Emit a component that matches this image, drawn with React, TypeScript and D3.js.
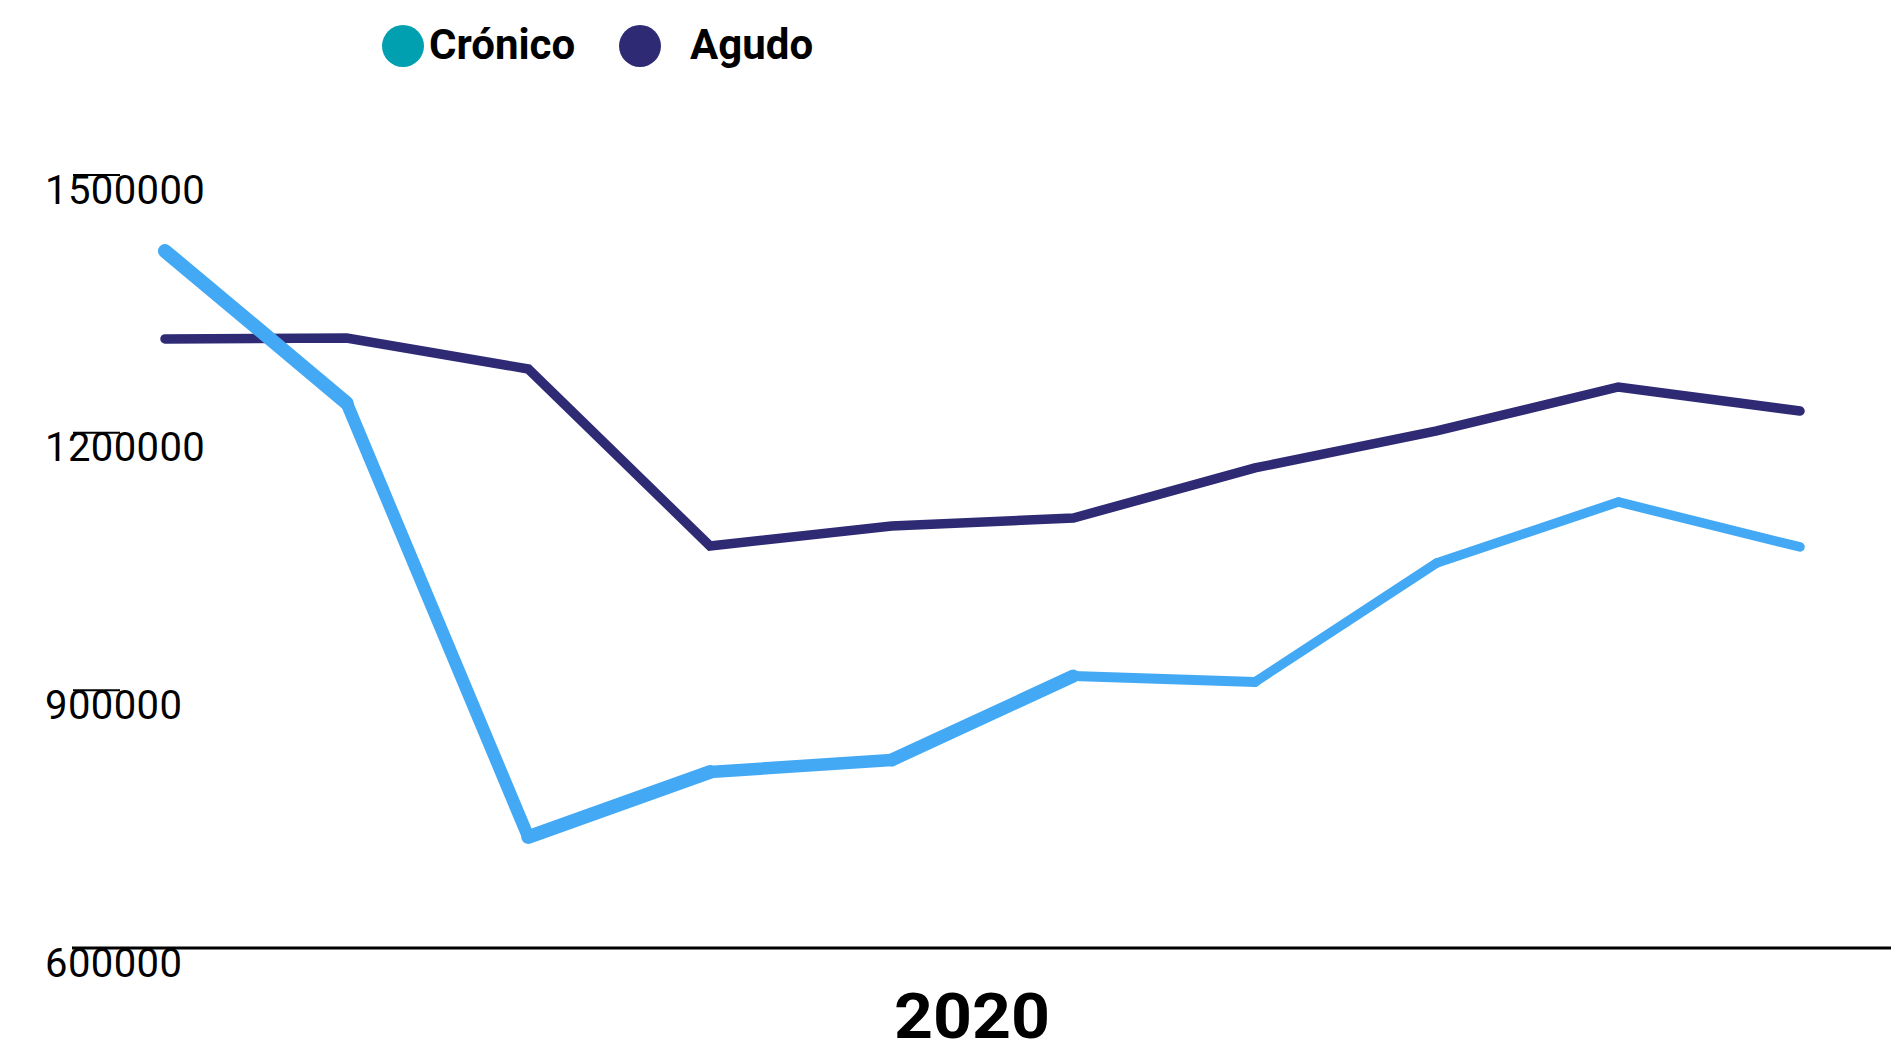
import React from "react";
import * as d3 from "d3";

// ---- data ----
const periods = ["P1", "P2", "P3", "P4", "P5", "P6", "P7", "P8", "P9", "P10"];
const cronico = [1411500, 1234500, 729200, 804900, 818900, 916700, 909700, 1048300, 1119300, 1066900];
const agudo = [1309100, 1310200, 1274100, 1068100, 1091300, 1100600, 1158900, 1202000, 1253200, 1225200];
const yTicks = [600000, 900000, 1200000, 1500000];
const yearLabel = "2020";
const seriesNames = ["Crónico", "Agudo"];

// ---- styling ----
const W = 1891;
const H = 1045;
const cronicoWidths = [14, 12.5, 14, 12.5, 13, 10, 9.5, 9.5, 9.5];
const COL_CRON_LINE = "#43a9f5";
const COL_CRON_LEGEND = "#00a0b0";
const COL_AGUDO = "#2e2a74";
const FONT = "Roboto, 'Noto Sans', sans-serif";

export default function App() {
  const x = d3.scalePoint<string>().domain(periods).range([165, 1800]);
  const y = d3.scaleLinear().domain([600000, 1500000]).range([948, 175]);

  const line = d3
    .line<number>()
    .x((_, i) => x(periods[i]) as number)
    .y((d) => y(d));

  const segLine = d3
    .line<[string, number]>()
    .x((d) => x(d[0]) as number)
    .y((d) => y(d[1]));

  const cronSegs = cronico.slice(0, -1).map((v, i) => [
    [periods[i], v] as [string, number],
    [periods[i + 1], cronico[i + 1]] as [string, number],
  ]);

  return (
    <svg
      width={W}
      height={H}
      style={{ position: "absolute", left: 0, top: 0, background: "#fff" }}
    >
      <rect x={0} y={0} width={W} height={H} fill="#fff" />

      {/* legend */}
      <g fontFamily={FONT} fontWeight={700} fontSize={42} fill="#000">
        <circle cx={403} cy={46} r={21} fill={COL_CRON_LEGEND} />
        <text x={429} y={59}>{seriesNames[0]}</text>
        <circle cx={640} cy={46} r={21} fill={COL_AGUDO} />
        <text x={690} y={59}>{seriesNames[1]}</text>
      </g>

      {/* y axis ticks and labels */}
      <g fontFamily={FONT} fontSize={40} fill="#000">
        {yTicks.map((t) => (
          <g key={t}>
            <line x1={73} x2={120} y1={y(t)} y2={y(t)} stroke="#000" strokeWidth={2} />
            <text x={45} y={y(t) + 28.5} letterSpacing={0.4}>{t}</text>
          </g>
        ))}
      </g>

      {/* baseline axis */}
      <line x1={72} x2={W} y1={y(600000)} y2={y(600000)} stroke="#000" strokeWidth={3} />

      {/* Agudo line */}
      <path
        d={line(agudo) || ""}
        fill="none"
        stroke={COL_AGUDO}
        strokeWidth={9.5}
        strokeLinecap="round"
        strokeLinejoin="miter"
      />

      {/* Crónico line, drawn by segment */}
      {cronSegs.map((s, i) => (
        <path
          key={i}
          d={segLine(s) || ""}
          fill="none"
          stroke={COL_CRON_LINE}
          strokeWidth={cronicoWidths[i]}
          strokeLinecap="round"
        />
      ))}

      {/* year label */}
      <text
        x={972}
        y={1038}
        textAnchor="middle"
        fontFamily={FONT}
        fontWeight={700}
        fontSize={63}
        fill="#000"
        textLength={156}
        lengthAdjust="spacingAndGlyphs"
      >
        {yearLabel}
      </text>
    </svg>
  );
}
